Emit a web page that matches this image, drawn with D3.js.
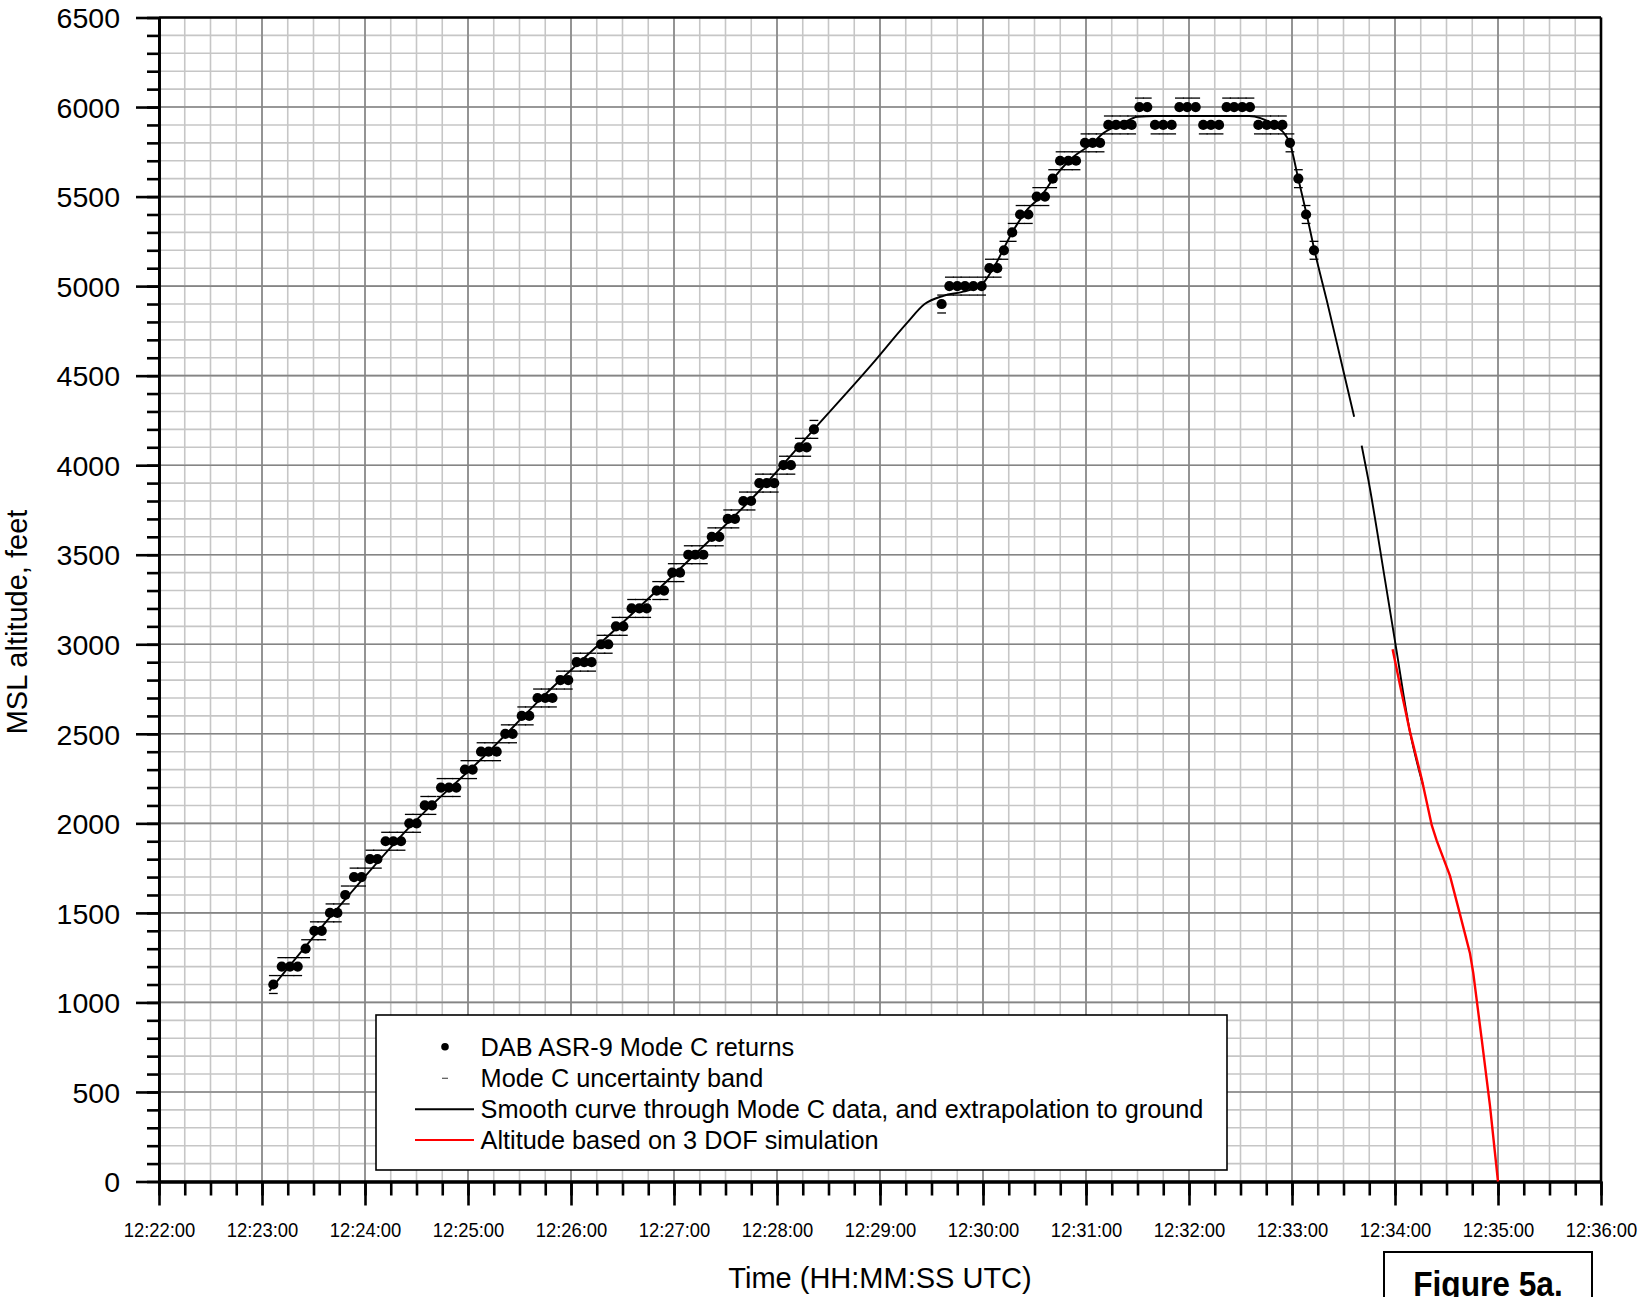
<!DOCTYPE html>
<html><head><meta charset="utf-8">
<script src="https://cdn.jsdelivr.net/npm/d3@7"></script>
<style>
body{margin:0;background:#fff}
svg{display:block}
text{font-family:"Liberation Sans",Arial,Helvetica,sans-serif;fill:#000}
</style>
</head><body>
<svg id="c" width="1642" height="1297"></svg>
<script>
// ---------- DATA (seconds after 12:22:00 UTC, altitude in feet) ----------
const xDomainSec = [0, 840];            // 12:22:00 .. 12:36:00
const yDomain = [0, 6500];
const yMajorTicks = [0,500,1000,1500,2000,2500,3000,3500,4000,4500,5000,5500,6000,6500];

const returnSec = [66.6, 71.5, 76.3, 80.8, 85.4, 90.5, 94.8, 99.6, 103.9, 108.5, 113.6, 118.0, 122.9, 127.2,
  132.0, 136.5, 141.0, 145.8, 150.1, 154.8, 159.0, 164.3, 168.9, 173.2, 178.2, 182.7, 187.6, 192.0, 196.7,
  201.7, 206.0, 211.3, 215.7, 220.5, 225.0, 229.2, 233.8, 238.4, 243.3, 247.7, 252.0, 257.5, 261.7, 266.2,
  270.5, 275.3, 279.8, 284.1, 289.9, 294.2, 299.0, 303.5, 308.3, 312.4, 317.1, 322.0, 326.4, 331.3, 335.5,
  340.4, 344.9, 349.7, 354.0, 358.4, 363.7, 368.1, 373.0, 377.3, 381.5,
  455.9, 460.4, 465.0, 469.5, 474.4, 479.2, 483.7, 488.3, 492.2, 497.0, 501.6, 506.4, 511.3, 516.1, 520.6,
  524.9, 529.7, 534.2, 539.4, 543.9, 548.2, 553.0, 557.5, 562.2, 566.6, 571.1, 575.7, 580.2, 585.0, 589.9,
  594.4, 599.0, 603.9, 608.3, 612.8, 617.5, 621.9, 626.3, 631.0, 635.5, 640.4, 645.3, 649.7, 654.4, 658.8,
  663.7, 668.2, 672.8];
const returnAlt = [1100, 1200, 1200, 1200, 1300, 1400, 1400, 1500, 1500, 1600, 1700, 1700, 1800, 1800,
  1900, 1900, 1900, 2000, 2000, 2100, 2100, 2200, 2200, 2200, 2300, 2300, 2400, 2400, 2400,
  2500, 2500, 2600, 2600, 2700, 2700, 2700, 2800, 2800, 2900, 2900, 2900, 3000, 3000, 3100,
  3100, 3200, 3200, 3200, 3300, 3300, 3400, 3400, 3500, 3500, 3500, 3600, 3600, 3700, 3700,
  3800, 3800, 3900, 3900, 3900, 4000, 4000, 4100, 4100, 4200,
  4900, 5000, 5000, 5000, 5000, 5000, 5100, 5100, 5200, 5300, 5400, 5400, 5500, 5500, 5600,
  5700, 5700, 5700, 5800, 5800, 5800, 5900, 5900, 5900, 5900, 6000, 6000, 5900, 5900, 5900,
  6000, 6000, 6000, 5900, 5900, 5900, 6000, 6000, 6000, 6000, 5900, 5900, 5900, 5900, 5800,
  5600, 5400, 5200];
const bandHalf = 50;   // Mode C uncertainty (+/- feet)

// smooth curve through Mode C data (null = break in the drawn line)
const curveSec = [64.3, 100, 148, 190, 225, 270, 312, 350, 381.5, 415, 435.5, 446, 457, 468.5, 479, 486,
  497, 506, 513.7, 521, 530, 544, 550, 561.5, 570, 580, 635, 651, 654.7, 658.8, 663.7, 668.6, 673.5,
  680.2, 688, 696.2, 698, 700.6, 704.5, 714.2, 720.4, 728.7, 736.5];
const curveAlt = [1065, 1480, 2000, 2380, 2720, 3120, 3500, 3860, 4200, 4560, 4792, 4900, 4946, 4969, 5006, 5100,
  5300, 5430, 5500, 5600, 5700, 5800, 5853, 5909, 5946, 5950, 5950, 5890, 5862, 5797, 5598, 5397, 5183,
  4922, 4606, 4271, null, 4109, 3917, 3358, 2994, 2512, 2207];

// 3 DOF simulation
const simSec = [718.6, 722.9, 728.7, 735.5, 741.4, 744.3, 752.0, 757.9, 763.7, 765.6, 770.5, 775.3, 780.0];
const simAlt = [2972, 2773, 2512, 2251, 1990, 1903, 1708, 1490, 1273, 1164, 795, 425, 0];

const legendLabels = ["DAB ASR-9 Mode C returns", "Mode C uncertainty band",
  "Smooth curve through Mode C data, and extrapolation to ground", "Altitude based on 3 DOF simulation"];
const xTitle = "Time (HH:MM:SS UTC)";
const yTitle = "MSL altitude, feet";
const figureLabel = "Figure 5a.";

// ---------- CHART ----------
const startUTC = Date.UTC(2000, 0, 1, 12, 22, 0);
const toDate = s => new Date(startUTC + s * 1000);
const P = {left: 159, right: 1601, top: 17.5, bottom: 1181.5};
const svg = d3.select("#c");
const x = d3.scaleUtc().domain(xDomainSec.map(toDate)).range([P.left, P.right]);
const y = d3.scaleLinear().domain(yDomain).range([P.bottom, P.top]);

// grid
const grid = svg.append("g");
const minorX = x.ticks(d3.utcSecond.every(15));
const majorX = x.ticks(d3.utcMinute.every(1));
const minorY = d3.range(yDomain[0], yDomain[1] + 1, 100);
grid.selectAll(".mx").data(minorX).join("line")
  .attr("x1", d => x(d)).attr("x2", d => x(d)).attr("y1", P.top).attr("y2", P.bottom)
  .attr("stroke", "#c6c6c6").attr("stroke-width", 1.6);
grid.selectAll(".my").data(minorY).join("line")
  .attr("x1", P.left).attr("x2", P.right).attr("y1", d => y(d)).attr("y2", d => y(d))
  .attr("stroke", "#c6c6c6").attr("stroke-width", 1.6);
grid.selectAll(".Mx").data(majorX).join("line")
  .attr("x1", d => x(d)).attr("x2", d => x(d)).attr("y1", P.top).attr("y2", P.bottom)
  .attr("stroke", "#858585").attr("stroke-width", 1.6);
grid.selectAll(".My").data(yMajorTicks).join("line")
  .attr("x1", P.left).attr("x2", P.right).attr("y1", d => y(d)).attr("y2", d => y(d))
  .attr("stroke", "#858585").attr("stroke-width", 1.6);

// legend box (drawn under data)
const L = {x: 376, y: 1015, w: 851, h: 155};
svg.append("rect").attr("x", L.x).attr("y", L.y).attr("width", L.w).attr("height", L.h)
  .attr("fill", "#fff").attr("stroke", "#000").attr("stroke-width", 1.6);

// axes
function styleAxis(g) {
  g.select(".domain").attr("stroke", "#000").attr("stroke-width", 2.8);
  g.selectAll(".tick line").attr("stroke", "#000").attr("stroke-width", 2.6);
}
const fmt = d3.utcFormat("%H:%M:%S");
const gxMinor = svg.append("g").attr("transform", `translate(0,${P.bottom})`)
  .call(d3.axisBottom(x).tickValues(minorX).tickSize(14).tickSizeOuter(0).tickFormat(""));
styleAxis(gxMinor);
const gx = svg.append("g").attr("transform", `translate(0,${P.bottom})`)
  .call(d3.axisBottom(x).tickValues(majorX).tickSize(24).tickSizeOuter(0).tickFormat(fmt));
styleAxis(gx);
gx.selectAll(".tick text").attr("y", 55.2).attr("dy", 0)
  .attr("font-size", 21).attr("font-family", "Liberation Sans, Arial, sans-serif")
  .attr("transform", "scale(0.877,1)");

const gyMinor = svg.append("g").attr("transform", `translate(${P.left},0)`)
  .call(d3.axisLeft(y).tickValues(minorY).tickSize(12).tickSizeOuter(0).tickFormat(""));
styleAxis(gyMinor);
const gy = svg.append("g").attr("transform", `translate(${P.left},0)`)
  .call(d3.axisLeft(y).tickValues(yMajorTicks).tickSize(23).tickSizeOuter(0).tickFormat(d3.format("d")));
styleAxis(gy);
gy.selectAll(".tick text").attr("x", -39).attr("dy", "0.36em")
  .attr("font-size", 28.5).attr("font-family", "Liberation Sans, Arial, sans-serif");

// frame top / right
svg.append("line").attr("x1", P.left).attr("x2", P.right).attr("y1", P.top).attr("y2", P.top)
  .attr("stroke", "#000").attr("stroke-width", 2.4);
svg.append("line").attr("x1", P.right).attr("x2", P.right).attr("y1", P.top).attr("y2", P.bottom)
  .attr("stroke", "#000").attr("stroke-width", 2.6);

// titles
svg.append("text").attr("x", 880).attr("y", 1288).attr("text-anchor", "middle")
  .attr("font-size", 29).text(xTitle);
svg.append("text").attr("transform", "translate(27,622) rotate(-90)").attr("text-anchor", "middle")
  .attr("font-size", 29).text(yTitle);

// uncertainty bands
const returns = returnSec.map((s, i) => ({t: toDate(s), alt: returnAlt[i]}));
const bands = svg.append("g").attr("stroke", "#000").attr("stroke-width", 1.3);
returns.forEach(d => {
  [d.alt + bandHalf, d.alt - bandHalf].forEach(a => {
    bands.append("line").attr("x1", x(d.t) - 4.4).attr("x2", x(d.t) + 4.4)
      .attr("y1", y(a)).attr("y2", y(a));
  });
});

// smooth curve
const curvePts = curveSec.map((s, i) => ({t: toDate(s), alt: curveAlt[i]}));
const line = d3.line().defined(d => d.alt != null).x(d => x(d.t)).y(d => y(d.alt)).curve(d3.curveMonotoneX);
svg.append("path").datum(curvePts).attr("d", line).attr("fill", "none")
  .attr("stroke", "#000").attr("stroke-width", 1.9);

// simulation
const simPts = simSec.map((s, i) => ({t: toDate(s), alt: simAlt[i]}));
svg.append("path").datum(simPts).attr("d", d3.line().x(d => x(d.t)).y(d => y(d.alt)))
  .attr("fill", "none").attr("stroke", "#ff0000").attr("stroke-width", 2.4);

// returns (dots)
svg.append("g").selectAll("circle").data(returns).join("circle")
  .attr("cx", d => x(d.t)).attr("cy", d => y(d.alt)).attr("r", 5.1).attr("fill", "#000");

// legend content
const rowsY = [1046.7, 1078.3, 1109.3, 1140];
const lg = svg.append("g");
lg.append("circle").attr("cx", 445).attr("cy", rowsY[0]).attr("r", 3.8).attr("fill", "#000");
lg.append("line").attr("x1", 442).attr("x2", 448).attr("y1", rowsY[1]).attr("y2", rowsY[1])
  .attr("stroke", "#555").attr("stroke-width", 1.2);
lg.append("line").attr("x1", 415).attr("x2", 474).attr("y1", rowsY[2]).attr("y2", rowsY[2])
  .attr("stroke", "#000").attr("stroke-width", 1.9);
lg.append("line").attr("x1", 415).attr("x2", 474).attr("y1", rowsY[3]).attr("y2", rowsY[3])
  .attr("stroke", "#ff0000").attr("stroke-width", 2);
lg.selectAll("text").data(legendLabels).join("text")
  .attr("x", 480.6).attr("y", (d, i) => rowsY[i] + 8.9).attr("font-size", 25.3).text(d => d);

// Figure label box
svg.append("rect").attr("x", 1384).attr("y", 1252).attr("width", 208).attr("height", 80)
  .attr("fill", "#fff").attr("stroke", "#000").attr("stroke-width", 2);
svg.append("text").attr("transform", "translate(1488,1296) scale(0.88,1)").attr("text-anchor", "middle")
  .attr("font-size", 36).attr("font-weight", "bold").text(figureLabel);
</script>
</body></html>
